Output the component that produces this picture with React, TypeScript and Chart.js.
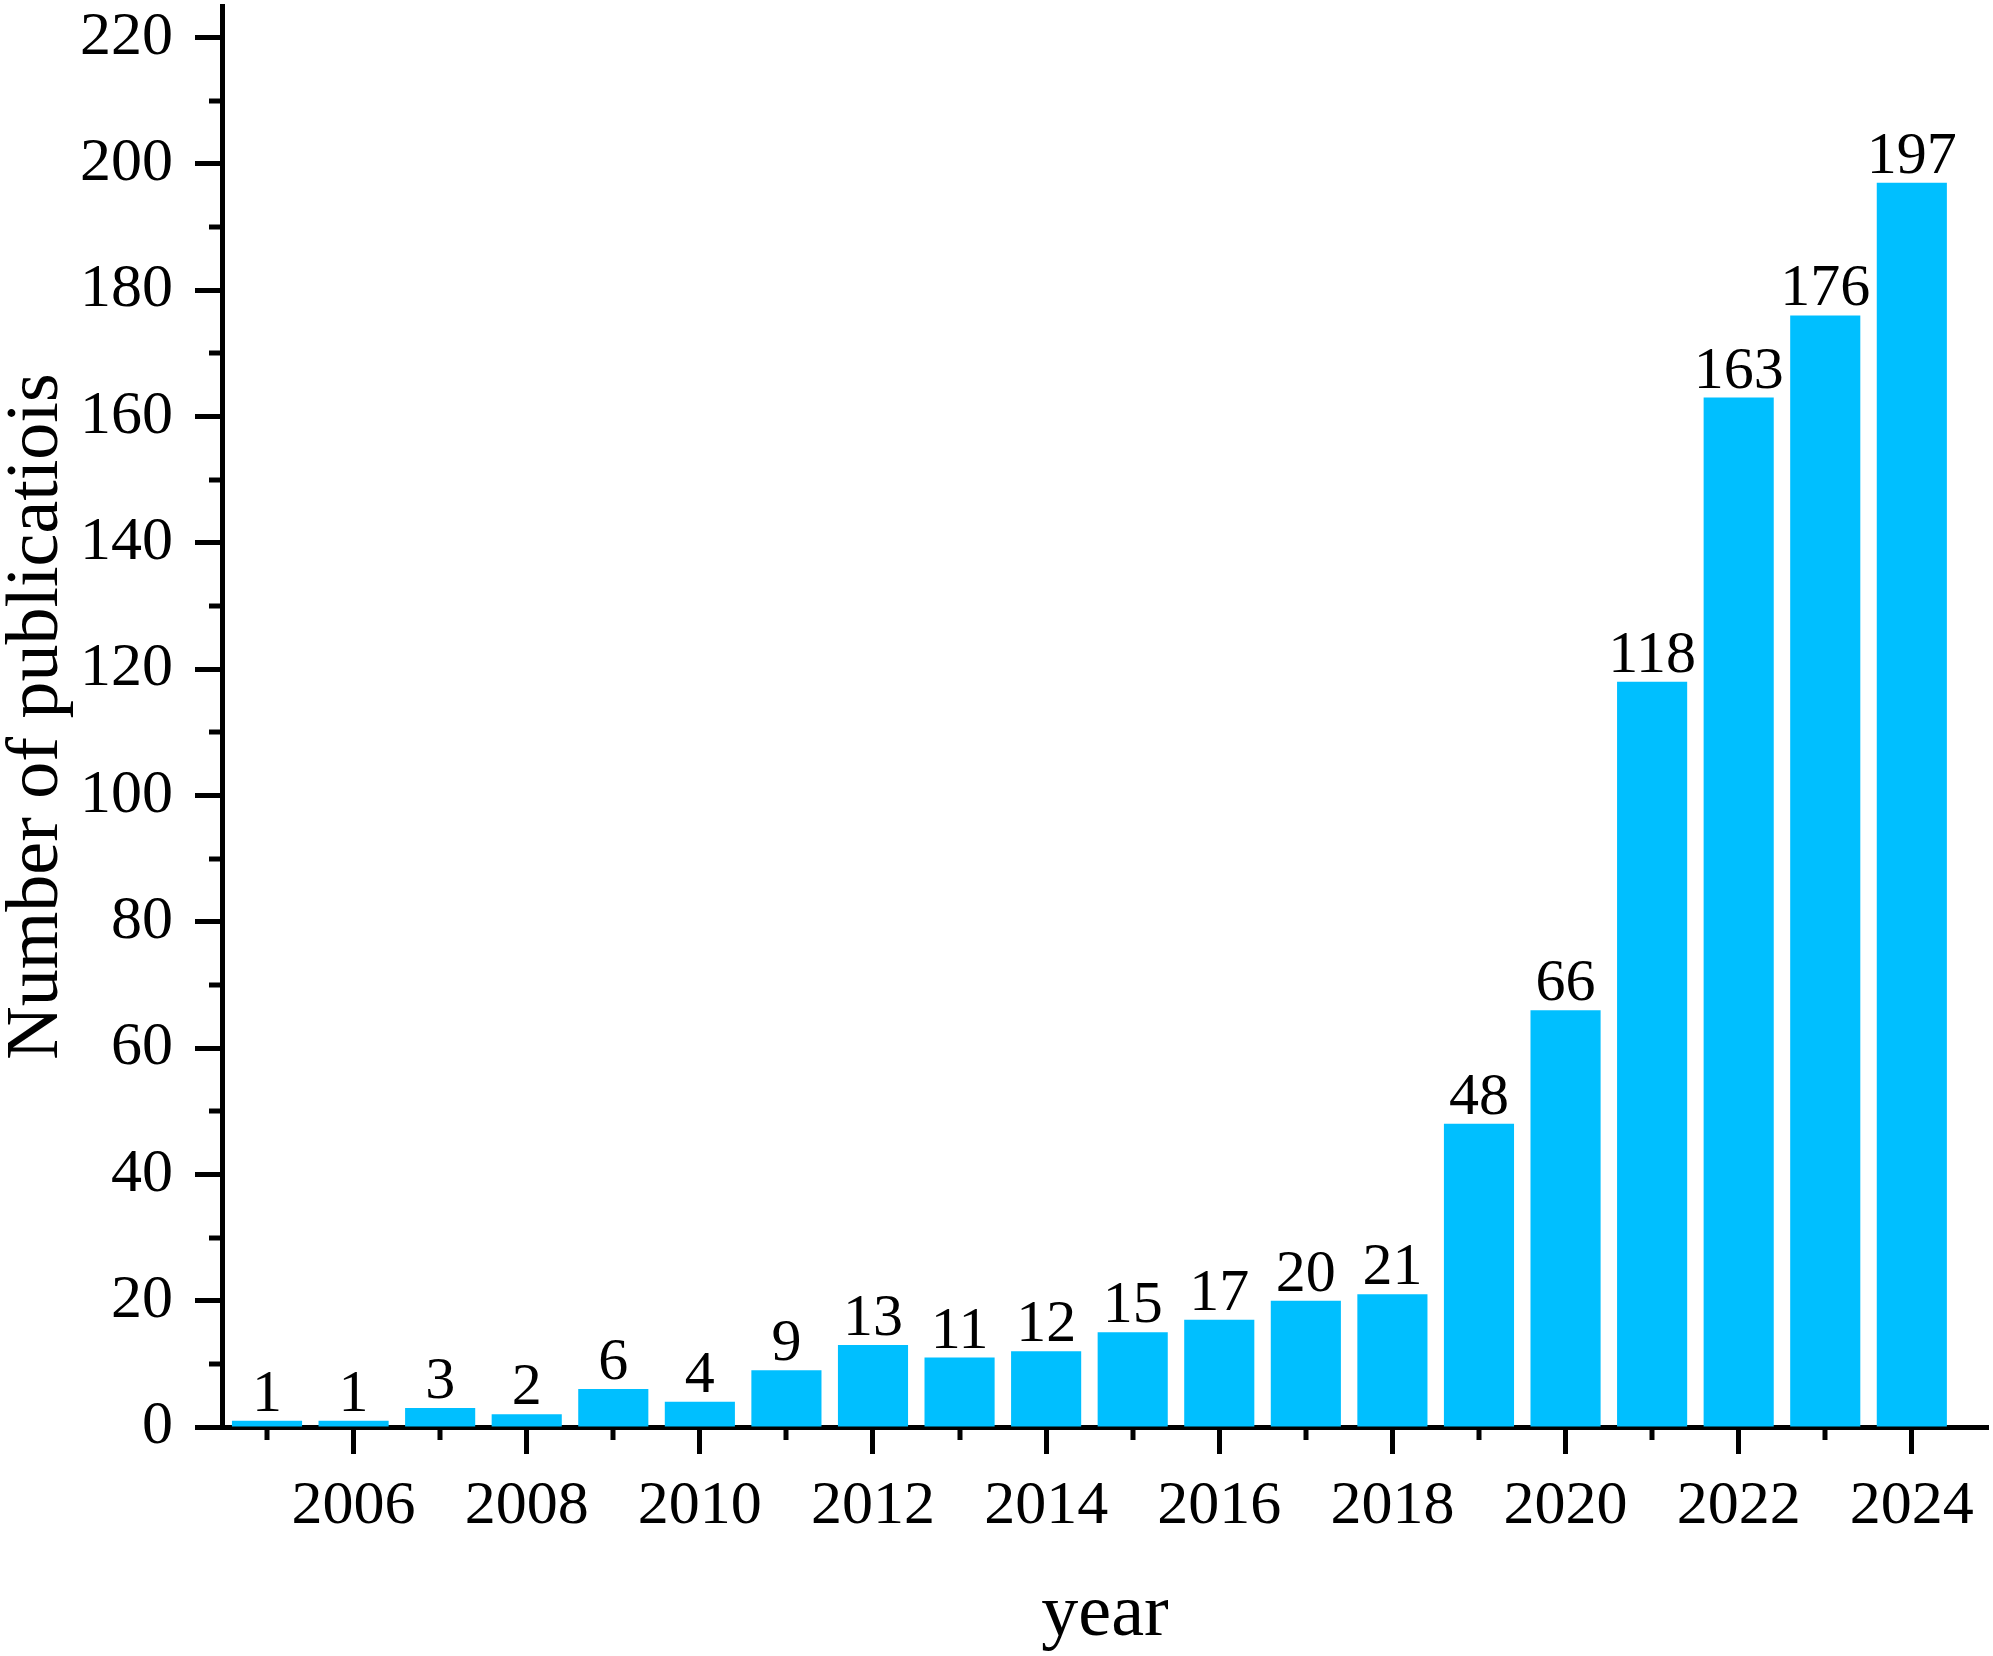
import React, { useEffect, useRef } from "react";
import { Chart, registerables } from "chart.js";

Chart.register(...registerables);

const years = [2005, 2006, 2007, 2008, 2009, 2010, 2011, 2012, 2013, 2014, 2015, 2016, 2017, 2018, 2019, 2020, 2021, 2022, 2023, 2024];
const publications = [1, 1, 3, 2, 6, 4, 9, 13, 11, 12, 15, 17, 20, 21, 48, 66, 118, 163, 176, 197];
const xTitle = "year";
const yTitle = "Number of publicatiois";

const FONT = "'Liberation Serif', 'Times New Roman', serif";
const BAR_COLOR = "#00BFFF";

const minorTicks = {
  id: "minorTicks",
  afterDraw(chart: any) {
    const ctx = chart.ctx;
    const xs = chart.scales.x;
    const ys = chart.scales.y;
    ctx.save();
    ctx.strokeStyle = "#000";
    ctx.lineWidth = 5;
    xs.ticks.forEach((t: any) => {
      if (Math.round(t.value) % 2 !== 0) {
        const px = Math.round(xs.getPixelForValue(t.value));
        ctx.beginPath();
        ctx.moveTo(px, xs.top);
        ctx.lineTo(px, xs.top + 13);
        ctx.stroke();
      }
    });
    ys.ticks.forEach((t: any) => {
      if (Math.round(t.value) % 20 !== 0) {
        const py = Math.round(ys.getPixelForValue(t.value));
        ctx.beginPath();
        ctx.moveTo(ys.right, py);
        ctx.lineTo(ys.right - 13, py);
        ctx.stroke();
      }
    });
    ctx.restore();
  },
};

const barLabels = {
  id: "barLabels",
  afterDatasetsDraw(chart: any) {
    const ctx = chart.ctx;
    const meta = chart.getDatasetMeta(0);
    ctx.save();
    ctx.fillStyle = "#000";
    ctx.font = `60px ${FONT}`;
    ctx.textAlign = "center";
    ctx.textBaseline = "alphabetic";
    meta.data.forEach((el: any, i: number) => {
      ctx.fillText(String(publications[i]), el.x, el.y - 10);
    });
    ctx.restore();
  },
};

export default function App() {
  const ref = useRef<HTMLCanvasElement | null>(null);
  useEffect(() => {
    if (!ref.current) return;
    const chart = new Chart(ref.current, {
      type: "bar",
      data: {
        datasets: [
          {
            data: years.map((y, i) => ({ x: y, y: publications[i] })),
            backgroundColor: BAR_COLOR,
            borderWidth: 0,
            barPercentage: 0.81,
            categoryPercentage: 1,
          },
        ],
      },
      options: {
        animation: false,
        responsive: false,
        devicePixelRatio: 1,
        layout: { padding: { top: 6, right: 5, left: 0, bottom: 0 } },
        plugins: { legend: { display: false }, tooltip: { enabled: false } },
        scales: {
          x: {
            type: "linear",
            offset: false,
            min: 2004.48,
            max: 2024.88,
            afterFit: (s: any) => {
              s.height = 229;
              s.paddingLeft = 0;
              s.paddingRight = 0;
            },
            border: { display: true, color: "#000", width: 5 },
            grid: {
              offset: false,
              drawOnChartArea: false,
              drawTicks: true,
              tickLength: 27,
              tickWidth: 5,
              tickColor: (c: any) => (c.tick && Math.round(c.tick.value) % 2 === 0 ? "#000" : "rgba(0,0,0,0)"),
            },
            ticks: {
              stepSize: 1,
              includeBounds: false,
              autoSkip: false,
              maxRotation: 0,
              padding: 16,
              color: "#000",
              font: { family: FONT, size: 62 },
              callback: (v: any) => (Math.round(v) % 2 === 0 ? String(Math.round(v)) : ""),
            },
            title: {
              display: true,
              text: xTitle,
              color: "#000",
              font: { family: FONT, size: 74, lineHeight: 1.1 },
              padding: { top: 0, bottom: 0 },
            },
          },
          y: {
            type: "linear",
            min: 0,
            max: 225,
            afterFit: (s: any) => {
              s.width = 222;
              s.paddingTop = 0;
              s.paddingBottom = 0;
            },
            border: { display: true, color: "#000", width: 5 },
            grid: {
              drawOnChartArea: false,
              drawTicks: true,
              tickLength: 27,
              tickWidth: 5,
              tickColor: (c: any) => (c.tick && Math.round(c.tick.value) % 20 === 0 ? "#000" : "rgba(0,0,0,0)"),
            },
            ticks: {
              stepSize: 10,
              includeBounds: false,
              autoSkip: false,
              padding: 22,
              color: "#000",
              font: { family: FONT, size: 62 },
              callback: (v: any) => (Math.round(v) % 20 === 0 ? String(Math.round(v)) : ""),
            },
            title: {
              display: true,
              text: yTitle,
              color: "#000",
              font: { family: FONT, size: 74, lineHeight: 1.2 },
              padding: { top: -7, bottom: 0 },
            },
          },
        },
      },
      plugins: [minorTicks, barLabels],
    });
    return () => chart.destroy();
  }, []);
  return (
    <div style={{ position: "fixed", left: 0, top: 0, width: 1993, height: 1656, background: "#fff" }}>
      <canvas ref={ref} width={1993} height={1656} style={{ display: "block" }} />
    </div>
  );
}
